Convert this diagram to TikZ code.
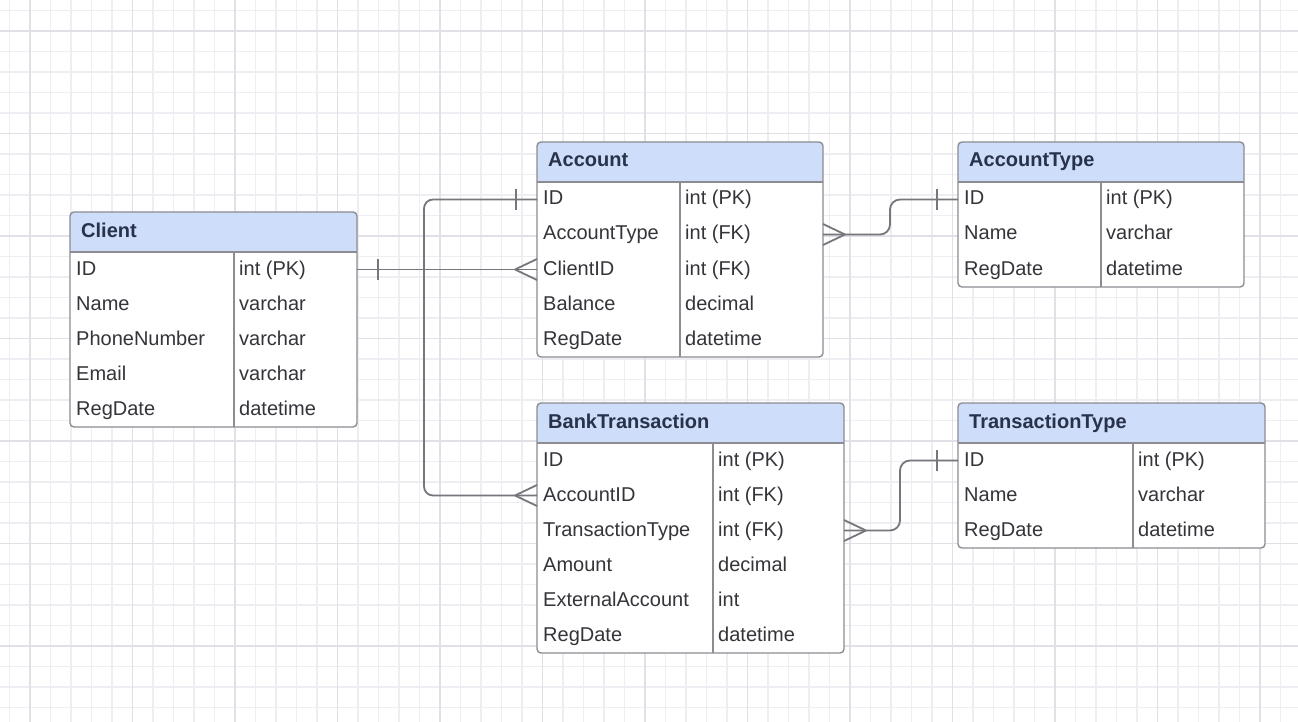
\documentclass[tikz,border=0pt]{standalone}
\usepackage{fontspec}
\setmainfont{Liberation Sans}
\usepackage{tikz}
\definecolor{hdrblue}{RGB}{206,221,249}
\definecolor{titleink}{RGB}{40,50,75}
\definecolor{bodyink}{RGB}{52,52,58}
\definecolor{tblgray}{RGB}{140,140,146}
\definecolor{linkgray}{RGB}{118,118,124}
\definecolor{gridminor}{RGB}{238,238,242}
\definecolor{gridmajor}{RGB}{224,224,230}
\tikzset{
	tblborder/.style={draw=tblgray, line width=1.4},
	conn/.style={draw=linkgray, line width=1.8},
	title/.style={anchor=base west, inner sep=0pt, text=titleink, font=\fontsize{20}{24}\selectfont\bfseries},
	field/.style={anchor=base west, inner sep=0pt, text=bodyink, font=\fontsize{20}{24}\selectfont},
}
\newcommand{\entity}[8] % {name}{x}{y}{width}{divider x}{rows}{title}{fields}
{
	\fill[white, rounded corners=4] (#2,#3) rectangle (#2+#4,#3+40+35*#6);
	\fill[hdrblue, rounded corners=4] (#2,#3) rectangle (#2+#4,#3+40);
	\fill[hdrblue] (#2,#3+20) rectangle (#2+#4,#3+40);
	\draw[tblborder] (#2,#3+40) -- (#2+#4,#3+40) (#5,#3+40) -- (#5,#3+40+35*#6);
	\draw[tblborder, rounded corners=4] (#2,#3) rectangle (#2+#4,#3+40+35*#6);
	\node[title] (#1) at (#2+11,#3+25) {#7};
	\foreach \f/\t [count=\i] in {#8}
	{
		\node[field] (#1-\i) at (#2+6,#3+28+35*\i) {\f};
		\node[field] (#1-\i-type) at (#5+5,#3+28+35*\i) {\t};
		\coordinate (#1-\i-w) at (#2,#3+22.5+35*\i);
		\coordinate (#1-\i-e) at (#2+#4,#3+22.5+35*\i);
	}
}
\newcommand{\many}[2][1] % [side]{edge point}
{
	\draw[conn, shift={(#2)}, xscale=#1] (-22,0) -- (0,-10.5) (-22,0) -- (0,10.5);
}
\newcommand{\one}[2][1] % [side]{edge point}
{
	\draw[conn, shift={(#2)}, xscale=#1] (-21,-10.5) -- (-21,10.5);
}
\begin{document}
\begin{tikzpicture}[x=1pt, y=-1pt]
	\useasboundingbox (0,0) rectangle (1298,722);
	\fill[white] (0,0) rectangle (1298,722);
	
	% grid
	\foreach \x in {0,...,62} \draw[gridminor, line width=1.2] (9.5+20.5*\x,0) -- (9.5+20.5*\x,722);
	\foreach \y in {0,...,34} \draw[gridminor, line width=1.2] (0,10.5+20.5*\y) -- (1298,10.5+20.5*\y);
	\foreach \x in {0,...,12} \draw[gridmajor, line width=1.6] (30+102.5*\x,0) -- (30+102.5*\x,722);
	\foreach \y in {0,...,6} \draw[gridmajor, line width=1.6] (0,31+102.5*\y) -- (1298,31+102.5*\y);
	
	% tables
	\entity{cli}{70}{212}{287}{234}{5}{Client}{ID/int (PK), Name/varchar, PhoneNumber/varchar, Email/varchar, RegDate/datetime}
	\entity{acc}{537}{142}{286}{680}{5}{Account}{ID/int (PK), AccountType/int (FK), ClientID/int (FK), Balance/decimal, RegDate/datetime}
	\entity{at}{958}{142}{286}{1101}{3}{AccountType}{ID/int (PK), Name/varchar, RegDate/datetime}
	\entity{bt}{537}{403}{307}{713}{6}{BankTransaction}{ID/int (PK), AccountID/int (FK), TransactionType/int (FK), Amount/decimal, ExternalAccount/int, RegDate/datetime}
	\entity{tt}{958}{403}{307}{1133}{3}{TransactionType}{ID/int (PK), Name/varchar, RegDate/datetime}
	
	% relations
	\draw[conn] (cli-1-e) -- (acc-3-w);
	\one[-1]{cli-1-e}
	\many{acc-3-w}
	
	\draw[conn, rounded corners=9] (acc-1-w) -- ++(-113,0) |- (bt-2-w);
	\one{acc-1-w}
	\many{bt-2-w}
	
	\draw[conn, rounded corners=10] (acc-2-e) -- ++(67,0) |- (at-1-w);
	\many[-1]{acc-2-e}
	\one{at-1-w}
	
	\draw[conn, rounded corners=10] (bt-3-e) -- ++(56,0) |- (tt-1-w);
	\many[-1]{bt-3-e}
	\one{tt-1-w}
\end{tikzpicture}
\end{document}
